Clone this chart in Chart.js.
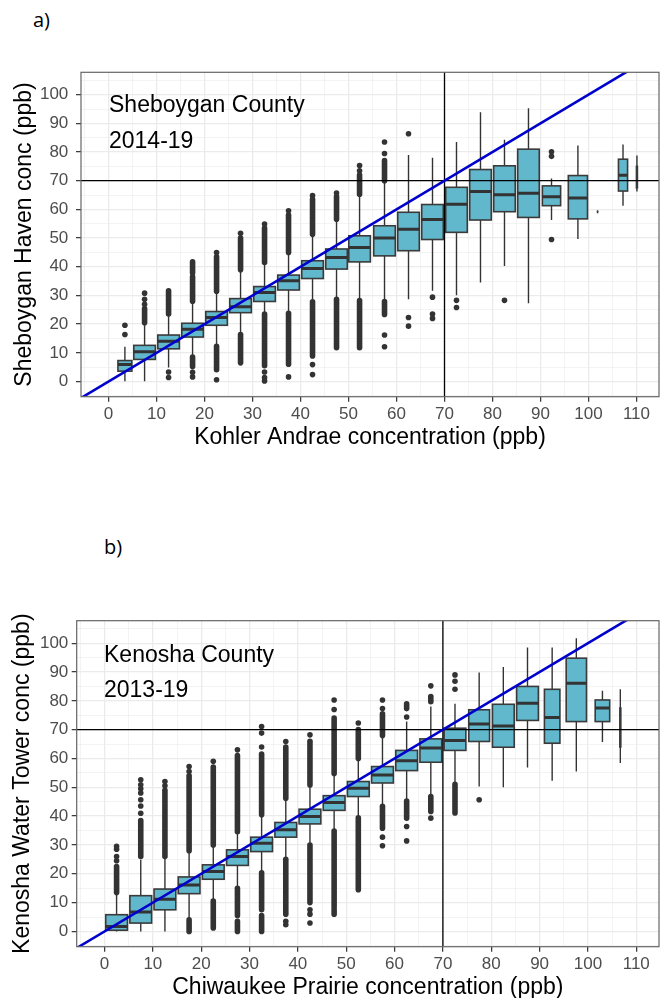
<!DOCTYPE html>
<html>
<head>
<meta charset="utf-8">
<script src="https://cdn.jsdelivr.net/npm/chart.js@4.4.0/dist/chart.umd.min.js"></script>
<style>
  body { margin: 0; background: #fff; width: 663px; height: 998px; position: relative; overflow: hidden; }
  .wrap { position: absolute; left: 0; width: 663px; }
  .note { position: absolute; font-family: "Liberation Sans", Arial, sans-serif; font-size: 23px; line-height: 23px; color: #000; white-space: nowrap; }
  .tag { position: absolute; font-family: "Open Sans", sans-serif; font-size: 20px; line-height: 20px; color: #000; }
</style>
</head>
<body>
<div class="tag" style="left:33px;top:10px">a)</div>
<div class="tag" style="left:104px;top:537px">b)</div>

<div class="wrap" style="top:0;height:460px"><canvas id="chartA" width="663" height="460"></canvas></div>
<div class="wrap" style="top:548px;height:462px"><canvas id="chartB" width="663" height="462"></canvas></div>

<div class="note" style="left:109px;top:93px">Sheboygan County</div>
<div class="note" style="left:109px;top:129px">2014-19</div>
<div class="note" style="left:104px;top:643px">Kenosha County</div>
<div class="note" style="left:104px;top:678px">2013-19</div>

<script>
// tick labels (ppb)
const xTickLabels = [0, 10, 20, 30, 40, 50, 60, 70, 80, 90, 100, 110];
const yTickLabels = [0, 10, 20, 30, 40, 50, 60, 70, 80, 90, 100];
const threshold = 70;
const oneToOne = [-10, 120];

// a) Sheboygan County 2014-19 : Kohler Andrae bins vs Sheboygan Haven
const shebX    = [3.4, 7.5, 12.5, 17.5, 22.5, 27.5, 32.5, 37.5, 42.5, 47.5, 52.3, 57.5, 62.5, 67.5, 72.5, 77.5, 82.5, 87.5, 92.3, 97.8, 101.9, 107.2, 110.1];
const shebW    = [2.9, 4.5, 4.5, 4.5, 4.5, 4.5, 4.5, 4.5, 4.5, 4.5, 4.5, 4.5, 4.5, 4.5, 4.5, 4.5, 4.5, 4.5, 3.8, 4.0, 0.3, 1.9, 0.2];
const shebLow  = [0.1, 0.1, 4.9, 9.1, 12.9, 17.0, 24.0, 24.6, 28.7, 29.3, 28.7, 28.7, 28.7, 31.6, 30.1, 34.5, 40.3, 27.3, 56.3, 49.7, 59.2, 61.3, 66.2];
const shebQ1   = [3.6, 7.7, 11.4, 15.5, 19.6, 24.0, 27.9, 31.9, 35.9, 39.2, 41.7, 43.8, 45.6, 49.5, 52.0, 56.3, 59.2, 57.2, 61.3, 56.7, 59.2, 66.4, 67.5];
const shebMed  = [5.9, 10.4, 14.0, 18.2, 22.3, 26.1, 31.0, 35.1, 39.4, 43.2, 46.7, 50.0, 53.1, 56.5, 61.8, 66.2, 65.1, 65.6, 64.4, 64.0, 59.2, 71.9, 70.0];
const shebQ3   = [7.3, 12.6, 16.2, 20.3, 24.4, 28.9, 33.1, 37.1, 42.1, 46.2, 50.8, 54.3, 59.0, 61.7, 67.7, 73.9, 75.2, 81.0, 68.2, 71.8, 59.2, 77.5, 75.0];
const shebHigh = [12.1, 20.0, 22.8, 27.5, 31.0, 38.5, 40.9, 44.4, 50.8, 56.1, 64.8, 69.5, 79.0, 78.0, 83.5, 93.9, 84.3, 95.3, 70.8, 82.3, 59.2, 82.6, 78.8];
// outliers per bin: a number is one dot, [lo, hi] is a solid column of dots
const shebOut = [
  [16.4, 19.6],
  [[20.5, 25.4], 26.9, 28.7, 30.8],
  [[23.5, 31.6], 3.3, 1.4],
  [[28, 36.5], [37.8, 41.7], [5.2, 8.5], 3.2, 1.6],
  [[31.5, 43.5], 45, [4.1, 12.3], 0.6],
  [[39, 50], 51.7, [6.5, 16.4]],
  [[41.5, 53.5], 54.9, [5.5, 23.5], 3.3, 1.4, 0.2],
  [[45, 58], 59.5, [6, 23.8], 1.6],
  [[51.3, 63.5], 64.8, [8.9, 27.8], 5.9, 2.4],
  [[56.6, 64.5], 65.7, [11.8, 28.7]],
  [[65.3, 72], 73.5, 75.3, [11.8, 28.2]],
  [[70, 77], 79.5, 83.5, [23.4, 27.9], 16.2, 12.1],
  [86.4, 22.3, 19.3],
  [29.4, 23.5, 22],
  [28.3, 25.8],
  [],
  [28.3],
  [],
  [80.1, 78.5, 49.5],
  [], [], [], []
];

// b) Kenosha County 2013-19 : Chiwaukee Prairie bins vs Kenosha Water Tower
const kenX    = [2.5, 7.5, 12.5, 17.5, 22.5, 27.5, 32.5, 37.5, 42.5, 47.5, 52.5, 57.5, 62.5, 67.5, 72.5, 77.5, 82.5, 87.5, 92.6, 97.6, 103.0, 106.7];
const kenW    = [4.5, 4.5, 4.5, 4.5, 4.5, 4.5, 4.5, 4.5, 4.5, 4.5, 4.5, 4.5, 4.5, 4.5, 4.5, 4.3, 4.5, 4.5, 3.2, 4.2, 3.0, 0.2];
const kenLow  = [0.0, 0.0, 0.0, 4.6, 11.0, 15.6, 20.8, 25.4, 30.6, 35.3, 39.9, 43.9, 45.7, 47.4, 51.5, 50.3, 50.0, 56.9, 52.3, 55.5, 65.7, 58.4];
const kenQ1   = [0.4, 2.9, 7.5, 13.1, 18.1, 22.9, 27.7, 32.7, 37.3, 42.0, 46.8, 51.5, 55.8, 58.7, 62.8, 65.9, 63.9, 73.2, 65.3, 72.8, 72.8, 64.0];
const kenMed  = [1.7, 6.7, 11.2, 16.1, 20.8, 26.0, 30.6, 35.3, 39.9, 44.7, 49.7, 54.3, 59.2, 63.6, 66.2, 72.0, 71.3, 79.2, 74.2, 86.1, 77.5, 70.0];
const kenQ3   = [5.8, 12.4, 14.7, 18.9, 23.1, 28.3, 32.7, 37.8, 42.4, 47.1, 52.0, 57.2, 62.8, 66.8, 70.5, 76.9, 78.8, 85.0, 84.0, 94.8, 80.3, 77.5];
const kenHigh = [12.7, 24.9, 25.4, 27.2, 29.5, 34.1, 39.9, 45.7, 50.3, 54.3, 59.5, 67.6, 72.8, 78.0, 79.0, 89.8, 91.7, 98.5, 98.5, 101.7, 83.5, 84.0];
const kenOut = [
  [[13.5, 22.5], 24.5, 26, 28.5, 29.5],
  [[26, 38.5], 41, 43.5, 45.7, 48, 49.5, 50.9, 52.6],
  [[26, 49], 50.5, 52],
  [[28, 54], 55.5, 57.2, [0, 4]],
  [[30, 57], 59, [1.2, 10.5]],
  [[34.6, 61], 63, [5.5, 15], [0, 3.5]],
  [[40.5, 61.5], 64, 68.8, 71.1, [7.5, 20.3], [0, 5.5]],
  [[46.2, 64], 65.9, [6, 25], 3.5, 2.3],
  [[50.8, 66], 68.2, [10, 30], 7.5, 6, 2.9],
  [[54.8, 74], 77, 80.3, [8.5, 34.8], [6, 7.5]],
  [[60, 70], 72.3, [14.5, 39.4]],
  [[68, 75.5], 77.3, 80.3, [35.8, 43.4], 32.7, 29.7],
  [[77.3, 79], 74.4, [39.3, 45.2], 36.4, 31.4],
  [[79.7, 81.5], 85.2, [41.6, 46.8], 39.3],
  [89, 86.8, 84, [41.1, 51]],
  [45.7],
  [], [], [], [], [], []
];

const FONT = '"Liberation Sans", Arial, sans-serif';

// whiskers, outlier columns, boxes and medians drawn through the chart scales
const boxPlugin = {
  id: 'boxes',
  beforeDatasetsDraw(chart, args, d) {
    const {ctx, chartArea: a, scales: {x, y}} = chart;
    ctx.save();
    ctx.beginPath();
    ctx.rect(a.left, a.top, a.right - a.left, a.bottom - a.top);
    ctx.clip();
    for (let i = 0; i < d.pos.length; i++) {
      const cx = x.getPixelForValue(d.pos[i]);
      const half = x.getPixelForValue(d.pos[i] + d.width[i] / 2) - cx;
      const yLow = y.getPixelForValue(d.low[i]), yQ1 = y.getPixelForValue(d.q1[i]);
      const yQ3 = y.getPixelForValue(d.q3[i]), yHigh = y.getPixelForValue(d.high[i]);
      const yMed = y.getPixelForValue(d.med[i]);

      ctx.strokeStyle = '#333';
      ctx.lineWidth = 1.4;
      ctx.lineCap = 'butt';
      ctx.beginPath();
      ctx.moveTo(cx, yLow); ctx.lineTo(cx, yQ1);
      ctx.moveTo(cx, yQ3); ctx.lineTo(cx, yHigh);
      ctx.stroke();

      ctx.lineWidth = 5.6;
      ctx.lineCap = 'round';
      d.out[i].forEach(v => {
        if (!Array.isArray(v)) return;
        ctx.beginPath();
        ctx.moveTo(cx, y.getPixelForValue(v[0]));
        ctx.lineTo(cx, y.getPixelForValue(v[1]));
        ctx.stroke();
      });

      ctx.lineCap = 'butt';
      ctx.fillStyle = '#61b8cc';
      ctx.fillRect(cx - half, yQ3, half * 2, yQ1 - yQ3);
      ctx.lineWidth = 1.6;
      ctx.strokeStyle = '#3a3a3a';
      ctx.strokeRect(cx - half, yQ3, half * 2, yQ1 - yQ3);
      ctx.lineWidth = 3;
      ctx.strokeStyle = '#333';
      ctx.beginPath();
      ctx.moveTo(cx - half, yMed); ctx.lineTo(cx + half, yMed);
      ctx.stroke();
    }
    ctx.restore();
  }
};

const framePlugin = {
  id: 'frame',
  afterDraw(chart) {
    const {ctx, chartArea: a} = chart;
    ctx.save();
    ctx.strokeStyle = '#666';
    ctx.lineWidth = 1.2;
    ctx.strokeRect(a.left, a.top, a.right - a.left, a.bottom - a.top);
    ctx.restore();
  }
};

function gridFrom(labels, lo, hi) {
  const g = [labels[0] - 5];
  labels.forEach(v => g.push(v, v + 5));
  return g.filter(v => v > lo && v < hi);
}

const xMin = -5.75, xMax = 114.7, yMin = -5.3, yMax = 107.8;

const gridStyle = {
  color: '#ebebeb',
  lineWidth: c => (c.tick && c.tick.value % 10 === 0 ? 1.3 : 0.6),
  tickColor: c => (c.tick && c.tick.value % 10 === 0 ? '#333' : 'rgba(0,0,0,0)'),
  tickLength: 5,
  tickWidth: 1.2
};

function makeChart(id, d, lay) {
  const dots = [];
  d.out.forEach((list, i) => list.forEach(v => {
    if (!Array.isArray(v)) dots.push({x: d.pos[i], y: v});
  }));
  return new Chart(document.getElementById(id), {
    type: 'scatter',
    data: {
      datasets: [
        { type: 'line', data: oneToOne.map(v => ({x: v, y: v})), borderColor: '#0000cd', borderWidth: 2.6, pointRadius: 0, order: 0 },
        { type: 'line', data: oneToOne.map(v => ({x: v, y: threshold})), borderColor: '#000', borderWidth: 1.3, pointRadius: 0, order: 1 },
        { type: 'line', data: oneToOne.map(v => ({x: threshold, y: v})), borderColor: '#000', borderWidth: 1.3, pointRadius: 0, order: 2 },
        { type: 'scatter', data: dots, pointRadius: 2.8, backgroundColor: '#333', borderWidth: 0, order: 3 }
      ]
    },
    options: {
      responsive: false,
      animation: false,
      events: [],
      layout: { padding: { top: lay.top, right: 3, left: 0, bottom: 0 } },
      plugins: { legend: { display: false }, tooltip: { enabled: false }, boxes: d },
      scales: {
        x: {
          type: 'linear', min: xMin, max: xMax,
          afterBuildTicks: s => { s.ticks = gridFrom(xTickLabels, xMin, xMax).map(v => ({value: v})); },
          afterFit: s => { s.height = lay.xh; },
          ticks: {
            autoSkip: false, maxRotation: 0, padding: 2, color: '#4d4d4d',
            font: { family: FONT, size: 17 },
            callback: v => (xTickLabels.includes(v) ? String(v) : '')
          },
          grid: gridStyle,
          border: { display: false },
          title: { display: true, text: d.xTitle, color: '#000', font: { family: FONT, size: 23 }, padding: { top: 0, bottom: lay.xtp } }
        },
        y: {
          type: 'linear', min: yMin, max: yMax,
          afterBuildTicks: s => { s.ticks = gridFrom(yTickLabels, yMin, yMax).map(v => ({value: v})); },
          afterFit: s => { s.width = lay.yw; },
          ticks: {
            autoSkip: false, padding: lay.ytp, color: '#4d4d4d',
            font: { family: FONT, size: 17 },
            callback: v => (yTickLabels.includes(v) ? String(v) : '')
          },
          grid: gridStyle,
          border: { display: false },
          title: { display: true, text: d.yTitle, color: '#000', font: { family: FONT, size: 23 }, padding: { top: lay.ttp, bottom: 0 } }
        }
      }
    },
    plugins: [boxPlugin, framePlugin]
  });
}

makeChart('chartA', {
  pos: shebX, width: shebW, low: shebLow, q1: shebQ1, med: shebMed, q3: shebQ3, high: shebHigh, out: shebOut,
  xTitle: 'Kohler Andrae concentration (ppb)', yTitle: 'Sheboygan Haven conc (ppb)'
}, { top: 72.3, xh: 63.3, xtp: 9, yw: 81, ytp: 7.7, ttp: 11 });

makeChart('chartB', {
  pos: kenX, width: kenW, low: kenLow, q1: kenQ1, med: kenMed, q3: kenQ3, high: kenHigh, out: kenOut,
  xTitle: 'Chiwaukee Prairie concentration (ppb)', yTitle: 'Kenosha Water Tower conc (ppb)'
}, { top: 72.7, xh: 63.3, xtp: 9, yw: 76.7, ytp: 3.4, ttp: 8.5 });
</script>
</body>
</html>
